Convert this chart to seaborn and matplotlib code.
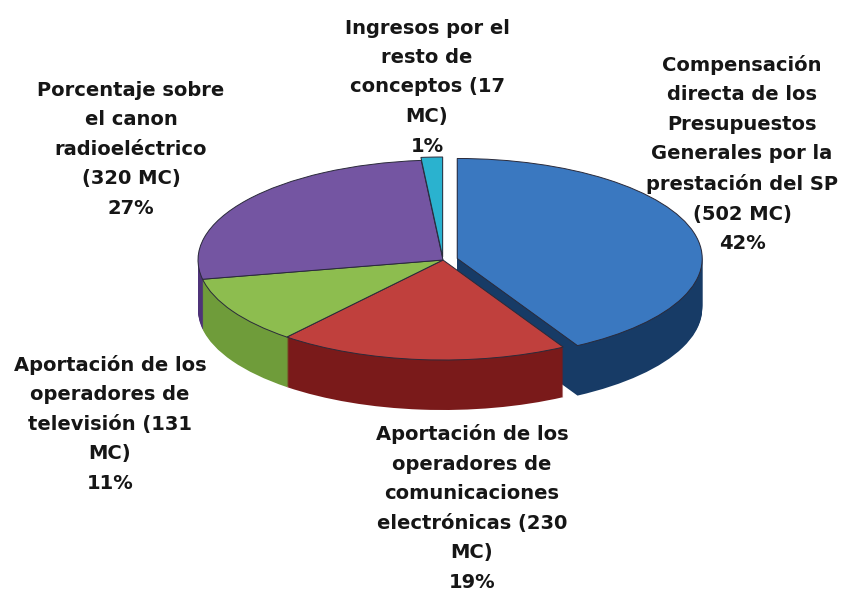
import matplotlib
matplotlib.use("Agg")
import matplotlib.pyplot as plt
import seaborn as sns

# slices, clockwise from 12 o'clock
labels = [
    "Compensación\ndirecta de los\nPresupuestos\nGenerales por la\nprestación del SP\n(502 MC)\n42%",
    "Aportación de los\noperadores de\ncomunicaciones\nelectrónicas (230\nMC)\n19%",
    "Aportación de los\noperadores de\ntelevisión (131\nMC)\n11%",
    "Porcentaje sobre\nel canon\nradioeléctrico\n(320 MC)\n27%",
    "Ingresos por el\nresto de\nconceptos (17\nMC)\n1%",
]
values = [502, 230, 131, 320, 17]
explode = [0.06, 0, 0, 0, 0.03]
top_colors = ["#3a78c0", "#c0403d", "#8dbd4f", "#7455a2", "#2ab2cf"]
side_colors = ["#173b66", "#7a1a1a", "#6f9c3a", "#4e3278", "#1a8aa0"]

# label centres in pixels (from top-left)
label_pos = [(742, 154), (472, 508), (110, 424), (131, 149), (427, 87)]

sns.set_style("white")
plt.rcParams["font.family"] = ["DejaVu Sans"]

W, H = 843, 592
fig = plt.figure(figsize=(W / 100, H / 100), dpi=100)
ax = fig.add_axes([0, 0, 1, 1])

# ellipse geometry in pixels
cx, cy = 443, 260
rx, ry = 245, 100
depth = 50 / ry

# side of the 3D pie: stacked copies shifted down
n = 50
for k in range(n, 0, -1):
    off = -depth * k / n
    ax.pie(values, colors=side_colors, explode=explode, startangle=90,
           counterclock=False, center=(0, off), radius=1,
           wedgeprops=dict(linewidth=0))

# top surface
ax.pie(values, colors=top_colors, explode=explode, startangle=90,
       counterclock=False, center=(0, 0), radius=1,
       wedgeprops=dict(linewidth=0.7, edgecolor="#2a2a3a"))

ax.set_aspect("auto")
ax.set_xlim(-cx / rx, (W - cx) / rx)
ax.set_ylim(-(H - cy) / ry, cy / ry)
ax.axis("off")

for lab, (px, py) in zip(labels, label_pos):
    fig.text(px / W, 1 - py / H, lab, ha="center", va="center",
             fontsize=14, fontweight="bold", color="#161616",
             linespacing=1.7)

fig.savefig("out.png", dpi=100, facecolor="white")
